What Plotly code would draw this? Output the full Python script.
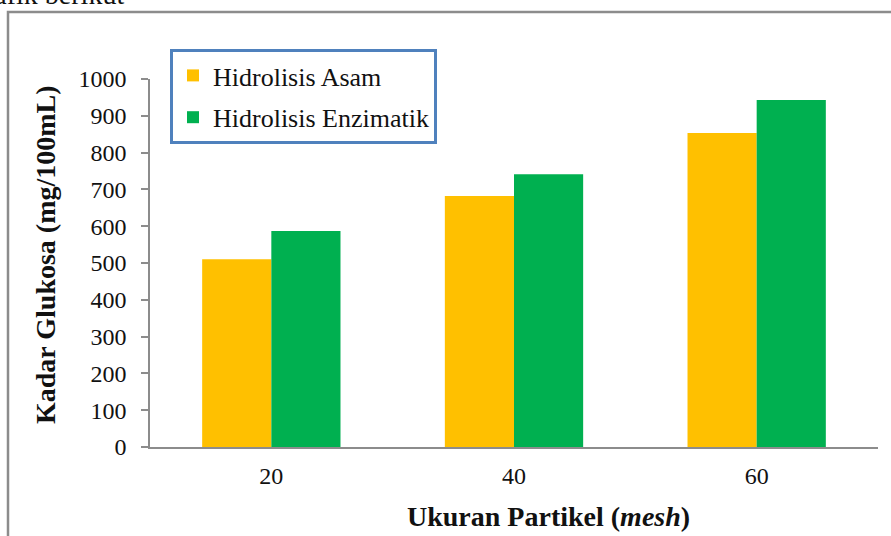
import plotly.graph_objects as go

categories = ["20", "40", "60"]
asam = [510, 682, 853]
enzimatik = [587, 741, 943]
series_names = ["Hidrolisis Asam", "Hidrolisis Enzimatik"]
y_ticks = [0, 100, 200, 300, 400, 500, 600, 700, 800, 900, 1000]

W, H = 891, 536
L, R, T, B = 150, 13, 79, 89
pw, ph = W - L - R, H - T - B

def px(x):
    return (x - L) / pw

def py(y):
    return (H - B - y) / ph

serif = "Liberation Serif"

fig = go.Figure()
fig.add_trace(go.Bar(x=categories, y=asam, name=series_names[0],
                     marker=dict(color="#FFC000", line=dict(width=0)), legendgroup="a"))
fig.add_trace(go.Bar(x=categories, y=enzimatik, name=series_names[1],
                     marker=dict(color="#00B050", line=dict(width=0)), legendgroup="b"))

fig.update_layout(
    width=W, height=H,
    margin=dict(l=L, r=R, t=T, b=B),
    paper_bgcolor="white", plot_bgcolor="white",
    barmode="group", bargap=0.43, bargroupgap=0,
    font=dict(family=serif, color="#111111", size=24),
    showlegend=True,
    legend=dict(
        x=px(170), y=py(49), xanchor="left", yanchor="top",
        bordercolor="#4F81BD", borderwidth=3, bgcolor="white",
        font=dict(family=serif, size=26, color="#111111"),
        traceorder="grouped", tracegroupgap=5,
    ),
    xaxis=dict(
        showline=True, linecolor="#8c8c8c", linewidth=1.5,
        ticks="", showgrid=False, ticklabelstandoff=6,
        tickfont=dict(family=serif, size=24, color="#111111"),
    ),
    yaxis=dict(
        range=[0, 1000], tickvals=y_ticks, showgrid=False,
        showline=True, linecolor="#8c8c8c", linewidth=1.5,
        ticks="outside", ticklen=7, tickcolor="#8c8c8c", tickwidth=1.5,
        ticklabelstandoff=10,
        tickfont=dict(family=serif, size=24, color="#111111"),
        zeroline=False,
    ),
    shapes=[
        dict(type="rect", xref="paper", yref="paper",
             x0=px(8), x1=px(900), y0=py(560), y1=py(12),
             line=dict(color="#8c8c8c", width=2.5), fillcolor="rgba(0,0,0,0)", layer="below"),
    ],
    annotations=[
        dict(text="grafik berikut", xref="paper", yref="paper", x=px(126), y=py(12),
             xanchor="right", yanchor="bottom", showarrow=False,
             font=dict(family=serif, size=28, color="#111111")),
        dict(text="<b>Ukuran Partikel (<i>mesh</i>)</b>", xref="paper", yref="paper",
             x=px(548), y=py(516), xanchor="center", yanchor="middle", showarrow=False,
             font=dict(family=serif, size=28, color="#111111")),
        dict(text="<b>Kadar Glukosa (mg/100mL)</b>", xref="paper", yref="paper",
             x=px(45), y=py(255), xanchor="center", yanchor="middle", showarrow=False,
             textangle=-90,
             font=dict(family=serif, size=28, color="#111111")),
    ],
)

fig.write_html("out.html", config={"displayModeBar": False})

with open("out.html", "r", encoding="utf-8") as f:
    html = f.read()
html = html.replace("<body>", '<body style="margin:0;padding:0;overflow:hidden">', 1)
with open("out.html", "w", encoding="utf-8") as f:
    f.write(html)
